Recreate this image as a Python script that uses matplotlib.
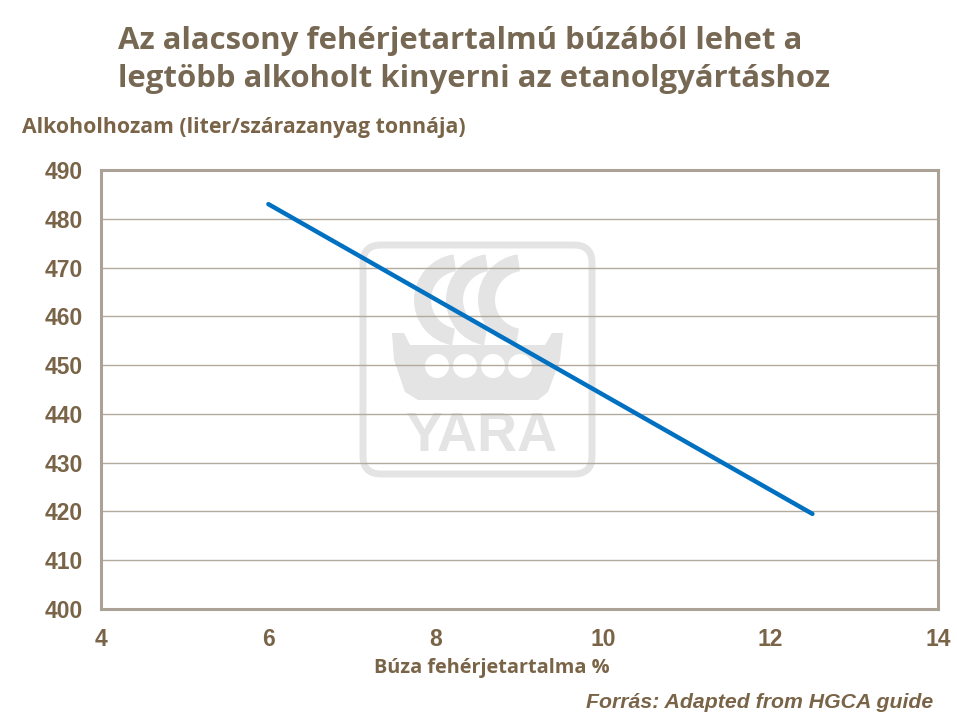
import matplotlib
matplotlib.use("Agg")
import matplotlib.pyplot as plt
from matplotlib.patches import FancyBboxPatch, Wedge, Circle, Polygon

protein_pct = [6.0, 12.5]
alcohol_yield = [483.0, 419.5]
x_ticks = [4, 6, 8, 10, 12, 14]
y_ticks = [400, 410, 420, 430, 440, 450, 460, 470, 480, 490]

title = "Az alacsony fehérjetartalmú búzából lehet a\nlegtöbb alkoholt kinyerni az etanolgyártáshoz"
ylabel = "Alkoholhozam (liter/szárazanyag tonnája)"
xlabel = "Búza fehérjetartalma %"
source = "Forrás: Adapted from HGCA guide"

W, H = 957, 721
brown = "#7a6448"
title_col = "#776853"
grid_col = "#b3aa9e"
logo_col = "#e4e4e4"

fig = plt.figure(figsize=(W / 100, H / 100), dpi=100)

# watermark logo (behind chart)
lx0, lx1, ly0, ly1 = 357, 598, 239, 480
lax = fig.add_axes([lx0 / W, 1 - ly1 / H, (lx1 - lx0) / W, (ly1 - ly0) / H], zorder=0)
lax.set_xlim(lx0, lx1)
lax.set_ylim(ly1, ly0)
lax.axis("off")
lax.add_patch(FancyBboxPatch((lx0 + 6, ly0 + 6), lx1 - lx0 - 12, ly1 - ly0 - 12,
                             boxstyle="round,pad=0,rounding_size=18",
                             fc="none", ec=logo_col, lw=5))
for cx in [460, 492, 524]:
    lax.add_patch(Wedge((cx, 300), 46, 100, 262, width=17, fc=logo_col, ec="none"))
hull = [(392, 333), (404, 333), (410, 345), (545, 345), (552, 333), (563, 333),
        (560, 360), (548, 392), (538, 400), (418, 400), (405, 392), (394, 360)]
lax.add_patch(Polygon(hull, closed=True, fc=logo_col, ec="none"))
for cx in [437, 465, 493, 520]:
    lax.add_patch(Circle((cx, 366), 12, fc="white", ec="none"))
lax.text(481, 437, "YARA", ha="center", va="center", fontsize=40,
         fontweight="bold", family="Liberation Sans", color=logo_col)

# main chart
ax = fig.add_axes([101 / W, 1 - 609 / H, (938 - 101) / W, (609 - 170) / H], zorder=1)
ax.patch.set_alpha(0)
ax.plot(protein_pct, alcohol_yield, color="#0070c0", lw=3.2, solid_capstyle="round", zorder=3)
ax.set_xlim(4, 14)
ax.set_ylim(400, 490)
ax.set_xticks(x_ticks)
ax.set_yticks(y_ticks)
ax.yaxis.grid(True, color=grid_col, lw=1)
ax.set_axisbelow(True)
for s in ax.spines.values():
    s.set_color("#aaa197")
    s.set_linewidth(2.2)
ax.tick_params(length=0, labelsize=16.5, labelcolor=brown)
for lab in ax.get_xticklabels() + ax.get_yticklabels():
    lab.set_fontweight("bold")
    lab.set_family("Liberation Sans")
ax.tick_params(axis="y", pad=13)
ax.tick_params(axis="x", pad=14)

fig.text(118 / W, 1 - 60 / H, title, ha="left", va="center", fontsize=22.4,
         fontweight="bold", family="Open Sans", color=title_col, linespacing=1.33)
fig.text(22 / W, 1 - 128 / H, ylabel, ha="left", va="center", fontsize=15.3,
         fontweight="bold", family="Open Sans", color=brown)
fig.text(492 / W, 1 - 668 / H, xlabel, ha="center", va="center", fontsize=14.3,
         fontweight="bold", family="Open Sans", color=brown)
fig.text(933 / W, 1 - 702 / H, source, ha="right", va="center", fontsize=15.3,
         fontweight="bold", style="italic", family="Liberation Sans", color=brown)

fig.savefig("out.png", dpi=100)
